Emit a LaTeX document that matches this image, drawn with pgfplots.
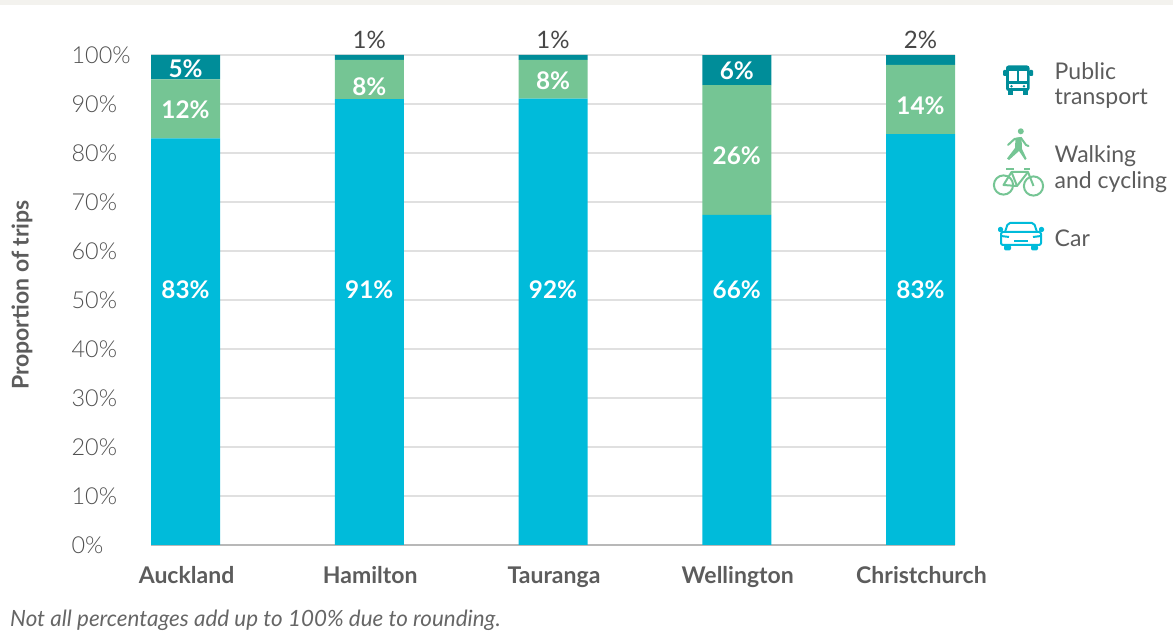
\documentclass[border=0pt]{standalone}
\usepackage{pgfplots}
\usepackage{pgfplotstable}
\pgfplotsset{compat=1.18}
\usepackage{fontspec}
\setmainfont{Lato}
\newfontfamily\lightfont{Lato Light}
\definecolor{car}{HTML}{00BBDA}
\definecolor{walk}{HTML}{75C594}
\definecolor{pub}{HTML}{008D99}
\definecolor{txt}{HTML}{5C5C5C}
\definecolor{tick}{HTML}{505050}
\definecolor{band}{HTML}{F3F2EE}

% Mode share by city, as published (rounded) percentages
\pgfplotstableread{
x car walk pub
0 83 12 5
1 91 8 1
2 92 8 1
3 66 26 6
4 83 14 2
}\modeshare

% Value labels: bar index, height on the axis, stated percentage
\pgfplotstableread{
x y val
0 52.0 83
1 52.0 91
2 52.0 92
3 52.0 66
4 52.0 83
0 88.9 12
1 93.6 8
2 94.8 8
3 79.5 26
4 89.7 14
0 97.2 5
3 96.8 6
}\insidelabels
\pgfplotstableread{
x y val
1 103.1 1
2 103.1 1
4 103.1 2
}\outsidelabels

\pgfplotsset{
  chartbase/.style={
    at={(151pt,89pt)}, anchor=south west,
    scale only axis, width=804pt, height=490pt,
    xmin=-0.1878, xmax=4.1878, ymin=0, ymax=100,
  },
  share/.style={
    ybar stacked, bar width=69pt, draw=none, fill=#1,
  },
}

\begin{document}
\begin{tikzpicture}[x=1pt,y=1pt]
\useasboundingbox (0,0) rectangle (1173,634);
\fill[band] (0,629) rectangle (1173,634);

\begin{axis}[
  chartbase,
  ybar stacked,
  axis lines=left,
  axis line style={-},
  x axis line style={draw=black!28,line width=1.2pt},
  y axis line style={draw=none},
  tick style={draw=none},
  ymajorgrids,
  grid style={draw=black!12,line width=1.3pt},
  ytick={0,10,...,100},
  yticklabel={\pgfmathprintnumber{\tick}\%},
  yticklabel style={
    /pgf/number format/assume math mode=true,
    font=\fontsize{23.4}{24}\selectfont\lightfont, text=tick,
    anchor=east, text width=60pt, align=left, inner sep=0pt, xshift=-17pt, yshift=-0.5pt,
  },
  xtick=data,
  xticklabels={Auckland,Hamilton,Tauranga,Wellington,Christchurch},
  xticklabel style={
    font=\fontsize{23}{24}\selectfont\bfseries, text=txt,
    anchor=base, yshift=-36pt, xshift=1pt,
  },
]
\addplot[share=car] table[x=x, y expr=\thisrow{car}/(\thisrow{car}+\thisrow{walk}+\thisrow{pub})*100] {\modeshare};
\addplot[share=walk] table[x=x, y expr=\thisrow{walk}/(\thisrow{car}+\thisrow{walk}+\thisrow{pub})*100] {\modeshare};
\addplot[share=pub] table[x=x, y expr=\thisrow{pub}/(\thisrow{car}+\thisrow{walk}+\thisrow{pub})*100] {\modeshare};
\end{axis}

% Percentage labels on a second, hidden axis with the same scale
\begin{axis}[chartbase, hide axis, clip=false]
\addplot[draw=none, mark=none, point meta=explicit symbolic,
  nodes near coords={\pgfplotspointmeta\%},
  every node near coord/.append style={anchor=center, inner sep=0pt, text=white,
    font=\fontsize{24.3}{24}\selectfont\bfseries}]
  table[x=x, y=y, meta=val] {\insidelabels};
\addplot[draw=none, mark=none, point meta=explicit symbolic,
  nodes near coords={\pgfplotspointmeta\%},
  every node near coord/.append style={anchor=center, inner sep=0pt, text=black!72,
    font=\fontsize{24}{24}\selectfont}]
  table[x=x, y=y, meta=val] {\outsidelabels};
\end{axis}

\begin{scope}[shift={(0pt,634pt)},y=-1pt]
  \node[rotate=90,text=txt,font=\fontsize{23}{24}\selectfont\bfseries] at (22,295) {Proportion of trips};
  \node[anchor=base west,text=black!60,inner sep=0pt,font=\fontsize{22.4}{24}\selectfont\itshape] at (10,627)
    {Not all percentages add up to 100\% due to rounding.};

  % Legend text
  \begin{scope}[text=txt,font=\fontsize{23}{24}\selectfont,inner sep=0pt]
    \node[anchor=base west] at (1054.5,80) {Public};
    \node[anchor=base west] at (1054.5,105) {transport};
    \node[anchor=base west] at (1054.5,163) {Walking};
    \node[anchor=base west] at (1054.5,189) {and cycling};
    \node[anchor=base west] at (1054.5,247) {Car};
  \end{scope}

  % Bus icon
  \fill[pub,rounded corners=2.5pt] (1006,65.5) rectangle (1029.5,91);
  \fill[white] (1009,71) rectangle (1016.7,81.5);
  \fill[white] (1018.8,71) rectangle (1026.5,81.5);
  \fill[white] (1009,84) rectangle (1026.5,88.5);
  \fill[pub] (1011.5,86.2) circle (1.4) (1024,86.2) circle (1.4);
  \fill[pub] (1008,90) rectangle (1013,95.5);
  \fill[pub] (1022.5,90) rectangle (1027.5,95.5);
  \fill[pub,rounded corners=1pt] (1003,70) rectangle (1006.5,76);
  \fill[pub,rounded corners=1pt] (1029,70) rectangle (1033,76);

  % Walker icon
  \fill[walk] (1020.8,131.3) circle (3);
  \fill[walk] (1015.5,138) -- (1021.5,137) -- (1022,149) -- (1026.5,158.5) -- (1025,160) -- (1019,151)
     -- (1009,160) -- (1007,158.5) -- (1015,148) -- cycle;
  \draw[walk,line width=2pt,line join=round,line cap=round] (1008,145) -- (1014.5,139) -- (1021,138) -- (1026,145) -- (1028.5,146);

  % Bicycle icon
  \begin{scope}[walk,line width=2pt,line join=round]
    \draw (1003.5,185) circle (9.6);
    \draw (1033.5,186) circle (9.6);
    \draw (1003.5,185) -- (1011.5,172) -- (1017,186) -- cycle;
    \draw (1011.5,172) -- (1028,172) -- (1033.5,186);
    \draw (1017,186) -- (1028,172);
    \draw (1006,169) -- (1014,169);
    \draw (1024,169) -- (1029.5,169);
  \end{scope}

  % Car icon
  \begin{scope}[car,line width=2pt,line join=round,rounded corners=2pt]
    \draw (1005,232) -- (1008,223) -- (1034,223) -- (1037,232);
    \draw (1001,232) rectangle (1041,245);
    \draw (1005,232) -- (1037,232);
    \fill (1004,245) rectangle (1011,250.5);
    \fill (1031,245) rectangle (1038,250.5);
    \draw (1001,236) -- (1009,237);
    \draw (1041,236) -- (1033,237);
    \draw (1014,241.5) -- (1028,241.5);
    \fill (998,227) rectangle (1003,232);
    \fill (1039,227) rectangle (1044,232);
  \end{scope}
\end{scope}
\end{tikzpicture}
\end{document}
